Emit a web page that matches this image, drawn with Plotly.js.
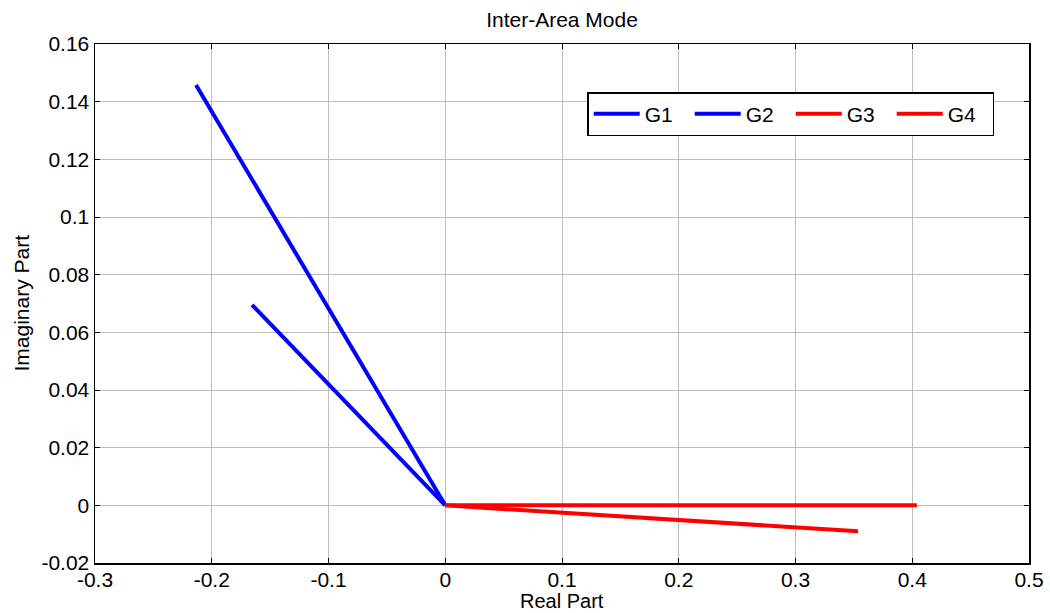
<!DOCTYPE html>
<html>
<head>
<meta charset="utf-8">
<script src="https://cdn.plot.ly/plotly-3.0.1.min.js"></script>
<style>html,body{margin:0;padding:0;background:#fff;}#chart{width:1050px;height:613px;}</style>
</head>
<body>
<div id="chart"></div>
<script>
const names = ["G1", "G2", "G3", "G4"];
const realEnd = [-0.2135, -0.1655, 0.404, 0.3535];
const imagEnd = [0.1458, 0.0695, 0.0, -0.009];
const colors = ["#0000ff", "#0000ff", "#ff0000", "#ff0000"];
const xTicks = [-0.3, -0.2, -0.1, 0, 0.1, 0.2, 0.3, 0.4, 0.5];
const xTickText = ["-0.3", "-0.2", "-0.1", "0", "0.1", "0.2", "0.3", "0.4", "0.5"];
const yTicks = [-0.02, 0, 0.02, 0.04, 0.06, 0.08, 0.1, 0.12, 0.14, 0.16];
const yTickText = ["-0.02", "0", "0.02", "0.04", "0.06", "0.08", "0.1", "0.12", "0.14", "0.16"];

const traces = names.map((n, i) => ({
  x: [0, realEnd[i]],
  y: [0, imagEnd[i]],
  mode: "lines",
  name: n,
  line: {color: colors[i], width: 4}
}));

const FONT = "Liberation Sans, Arial, sans-serif";
const axisCommon = {
  showline: true, mirror: "ticks", linecolor: "#000", linewidth: 1.5,
  ticks: "inside", ticklen: 5, tickcolor: "#000",
  showgrid: true, gridcolor: "#bdbdbd", gridwidth: 1,
  zeroline: false,
  tickfont: {family: FONT, size: 21, color: "#000"}
};

const layout = {
  width: 1050, height: 613,
  margin: {l: 95, r: 21, t: 44, b: 50},
  paper_bgcolor: "#fff", plot_bgcolor: "#fff",
  font: {family: FONT, color: "#000"},
  title: {text: "Inter-Area Mode", font: {size: 21, color: "#000"}, xref: "paper", x: 0.5, xanchor: "center", y: 0.968, yanchor: "middle"},
  xaxis: Object.assign({}, axisCommon, {
    range: [-0.3, 0.5], tickvals: xTicks, ticktext: xTickText,
    ticklabelstandoff: -3,
    title: {text: ""}
  }),
  yaxis: Object.assign({}, axisCommon, {
    range: [-0.02, 0.16], tickvals: yTicks, ticktext: yTickText,
    title: {text: ""}
  }),
  annotations: [{
    text: "Real Part", xref: "paper", yref: "paper", x: 0.5, y: -50 / 519,
    xanchor: "center", yanchor: "bottom", showarrow: false,
    font: {family: FONT, size: 20, color: "#000"}, borderpad: 0
  }, {
    text: "Imaginary Part", xref: "paper", yref: "paper", x: -74 / 934, y: 0.5,
    xanchor: "center", yanchor: "middle", textangle: -90, showarrow: false,
    font: {family: FONT, size: 21, color: "#000"}, borderpad: 0
  }],
  showlegend: true,
  legend: {
    orientation: "h", x: 0.527, y: 0.9075, xanchor: "left", yanchor: "top",
    bordercolor: "#000", borderwidth: 1.5, bgcolor: "#fff",
    font: {size: 21, color: "#000"},
    itemwidth: 46, entrywidth: 40, entrywidthmode: "pixels",
    tracegroupgap: 0
  }
};

Plotly.newPlot("chart", traces, layout, {displayModeBar: false, staticPlot: true});
</script>
</body>
</html>
